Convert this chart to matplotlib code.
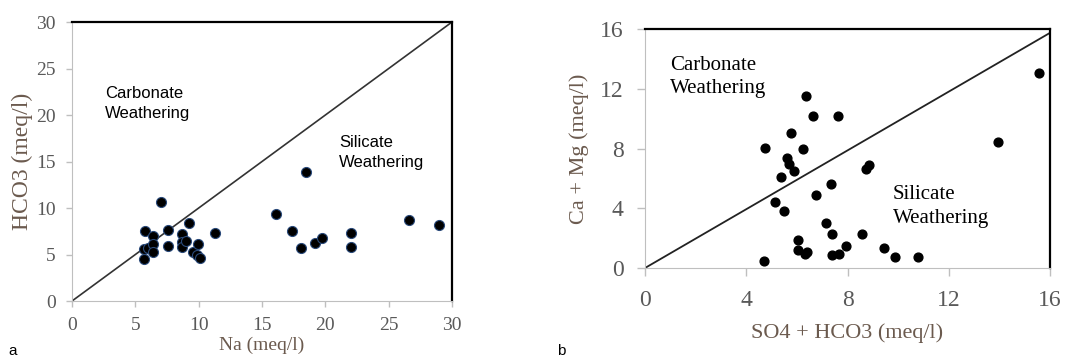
import matplotlib.pyplot as plt

# Panel a: Na vs HCO3
na = [5.67, 5.67, 5.73, 5.99, 6.41, 6.41, 6.41, 6.99, 7.56, 7.56,
      8.69, 8.69, 8.69, 9.01, 9.27, 9.53, 9.96, 9.90, 10.1, 11.3,
      16.1, 17.4, 18.1, 18.5, 19.2, 19.7, 22.0, 22.0, 26.6, 29.0]
hco3 = [4.52, 5.56, 7.49, 5.66, 6.99, 6.16, 5.30, 10.6, 7.63, 5.91,
        7.24, 6.31, 5.84, 6.49, 8.42, 5.23, 6.16, 4.95, 4.59, 7.28,
        9.32, 7.56, 5.70, 13.9, 6.20, 6.77, 7.31, 5.81, 8.67, 8.14]

# Panel b: SO4 + HCO3 vs Ca + Mg
so4_hco3 = [4.70, 4.72, 5.12, 5.36, 5.49, 5.59, 5.70, 5.76, 5.89, 6.04,
            6.04, 6.24, 6.36, 6.39, 6.30, 6.64, 6.75, 7.14, 7.33, 7.39,
            7.39, 7.63, 7.68, 7.92, 8.59, 8.74, 8.83, 9.42, 9.89, 10.8,
            13.93, 15.55]
ca_mg = [0.45, 8.06, 4.40, 6.12, 3.79, 7.34, 6.94, 9.04, 6.50, 1.85,
         1.18, 7.95, 11.5, 1.07, 0.94, 10.2, 4.91, 2.99, 5.63, 2.25,
         0.85, 10.2, 0.96, 1.47, 2.28, 6.63, 6.92, 1.36, 0.76, 0.76,
         8.46, 13.03]

serif = 'Liberation Serif'
sans = 'Liberation Sans'
lab_col = '#6b5a4e'
tick_col = '#595959'
grey = '#bfbfbf'

fig = plt.figure(figsize=(10.83, 3.62), dpi=100)
ax1 = fig.add_axes([0.0665, 0.1685, 0.3509, 0.7707])
ax2 = fig.add_axes([0.5956, 0.2597, 0.374, 0.660])


def style(ax, size, length, pad):
    ax.spines['left'].set_color(grey)
    ax.spines['bottom'].set_color(grey)
    ax.spines['top'].set_color('black')
    ax.spines['right'].set_color('black')
    for s in ['top', 'right']:
        ax.spines[s].set_linewidth(1.6)
    ax.tick_params(direction='out', length=length, width=1, color=grey,
                   labelcolor=tick_col, labelsize=size, pad=pad)
    for t in ax.get_xticklabels() + ax.get_yticklabels():
        t.set_fontfamily(serif)


# ---- panel a ----
ax1.plot([0, 30], [0, 30], color='#333333', lw=1.2)
ax1.scatter(na, hco3, s=52, color='black', edgecolors='#2a4a7a',
            linewidths=0.8, zorder=3)
ax1.set_xlim(0, 30)
ax1.set_ylim(0, 30)
ax1.set_xticks(range(0, 31, 5))
ax1.set_yticks(range(0, 31, 5))
style(ax1, 14, 4.3, 7.5)
ax1.set_xlabel('Na (meq/l)', fontsize=14, family=serif, color=lab_col, labelpad=2)
ax1.set_ylabel('HCO3 (meq/l)', fontsize=17, family=serif, color=lab_col, labelpad=2)
ax1.text(2.6, 23.1, 'Carbonate\nWeathering', family=sans, fontsize=12,
         va='top', ha='left', linespacing=1.4)
ax1.text(21.1, 17.85, 'Silicate\nWeathering', family=sans, fontsize=12,
         va='top', ha='left', linespacing=1.4)

# ---- panel b ----
ax2.plot([0, 16], [0, 15.75], color='#222222', lw=1.3)
ax2.scatter(so4_hco3, ca_mg, s=40, color='black', zorder=3)
ax2.set_xlim(0, 16)
ax2.set_ylim(0, 16)
ax2.set_xticks(range(0, 17, 4))
ax2.set_yticks(range(0, 17, 4))
style(ax2, 17, 6, 9.5)
ax2.set_xlabel('SO4 + HCO3 (meq/l)', fontsize=16, family=serif, color=lab_col, labelpad=9)
ax2.set_ylabel('Ca + Mg (meq/l)', fontsize=16, family=serif, color=lab_col, labelpad=8)
ax2.text(1.0, 14.2, 'Carbonate\nWeathering', family=serif,
         fontsize=15, va='top', ha='left', linespacing=1.3)
ax2.text(9.78, 5.53, 'Silicate\nWeathering', family=serif,
         fontsize=15, va='top', ha='left', linespacing=1.3)

fig.text(8 / 1083, 1 - 351 / 362, 'a', family=sans, fontsize=11, va='center')
fig.text(557 / 1083, 1 - 351 / 362, 'b', family=sans, fontsize=11, va='center')

fig.savefig('out.png', dpi=100)
